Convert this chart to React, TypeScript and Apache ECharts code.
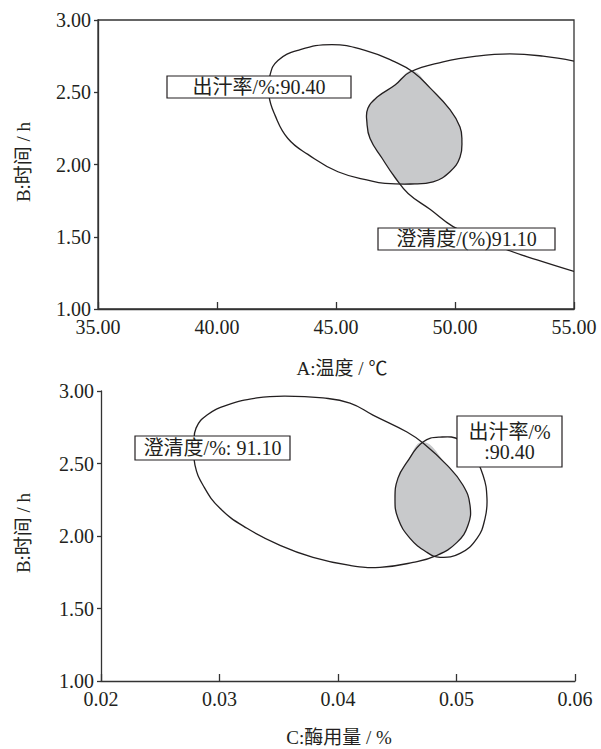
import React, { useEffect, useRef } from "react";
import * as echarts from "echarts";

// ---- Axis ranges ----
const tempRange = [35, 55, 5];
const timeRange = [1, 3, 0.5];
const enzymeRange = [0.02, 0.06, 0.01];

// ---- Top panel (A: temperature vs B: time) contours, [x, y] ----
const topYieldContour: number[][] = [
  [42.18, 2.48], [42.23, 2.62], [42.56, 2.72], [43.4, 2.79], [44.83, 2.83],
  [46.22, 2.79], [47.48, 2.71], [48.24, 2.64], [48.95, 2.53], [49.79, 2.38],
  [50.21, 2.26], [50.29, 2.17], [50.21, 2.05], [49.79, 1.95], [49.08, 1.88],
  [48.11, 1.865], [47.06, 1.87], [46.51, 1.885], [45.08, 1.95], [43.82, 2.07],
  [42.98, 2.18], [42.44, 2.34],
];
const topClarityContour: number[][] = [
  [55.0, 2.716], [53.7, 2.75], [52.31, 2.765], [50.92, 2.75], [49.5, 2.71],
  [48.11, 2.64], [47.48, 2.55], [46.76, 2.47], [46.34, 2.39], [46.3, 2.29],
  [46.43, 2.18], [46.93, 2.045], [47.48, 1.91], [48.03, 1.8], [48.95, 1.69],
  [49.92, 1.57], [51.05, 1.49], [52.18, 1.41], [53.45, 1.34], [55.0, 1.26],
];
const topOverlap: number[][] = [
  [48.19, 2.647], [48.95, 2.53], [49.79, 2.38], [50.21, 2.26], [50.29, 2.17],
  [50.21, 2.05], [49.79, 1.95], [49.08, 1.88], [48.32, 1.862], [47.73, 1.865],
  [47.48, 1.91], [46.93, 2.045], [46.43, 2.18], [46.3, 2.29], [46.34, 2.39],
  [46.76, 2.47], [47.48, 2.55],
];

// ---- Bottom panel (C: enzyme dose vs B: time) contours ----
const bottomClarityContour: number[][] = [
  [0.02785, 2.627], [0.02802, 2.744], [0.02895, 2.834], [0.03063, 2.903],
  [0.03316, 2.952], [0.03553, 2.965], [0.03873, 2.952], [0.04101, 2.917],
  [0.04295, 2.834], [0.04582, 2.717], [0.04717, 2.641], [0.0492, 2.489],
  [0.05055, 2.35], [0.05114, 2.212], [0.05097, 2.074], [0.05004, 1.956],
  [0.04835, 1.867], [0.04633, 1.818], [0.04354, 1.784], [0.04101, 1.797],
  [0.03789, 1.853], [0.03511, 1.936], [0.03232, 2.053], [0.03004, 2.191],
  [0.02861, 2.35], [0.02793, 2.489],
];
const bottomYieldContour: number[][] = [
  [0.04481, 2.261], [0.04506, 2.399], [0.04582, 2.509], [0.04717, 2.648],
  [0.04861, 2.682], [0.0503, 2.661], [0.05139, 2.558], [0.05224, 2.419],
  [0.05257, 2.261], [0.05241, 2.122], [0.05173, 1.984], [0.0503, 1.88],
  [0.04861, 1.853], [0.04751, 1.887], [0.04608, 1.984], [0.04506, 2.122],
];
const bottomOverlap: number[][] = [
  [0.04717, 2.648], [0.04582, 2.509], [0.04506, 2.399], [0.04481, 2.261],
  [0.04506, 2.122], [0.04608, 1.984], [0.04751, 1.887], [0.0481, 1.867],
  [0.05004, 1.956], [0.05097, 2.074], [0.05114, 2.212], [0.05055, 2.35],
  [0.0492, 2.489],
];

// ---- Texts ----
const topXName = "A:温度 / ℃";
const bottomXName = "C:酶用量 / %";
const yName = "B:时间 / h";
const topYieldLabel = "出汁率/%:90.40";
const topClarityLabel = "澄清度/(%)91.10";
const bottomClarityLabel = "澄清度/%: 91.10";
const bottomYieldLabel = "出汁率/%\n:90.40";

const FONT = '"Liberation Serif", "Times New Roman", "Noto Sans CJK SC", serif';
const INK = "#231f20";
const AXIS = "#333333";
const SMOOTH = 0.45;

function shape(gi: number, pts: number[][], kind: "closed" | "open" | "fill") {
  return {
    type: "custom",
    xAxisIndex: gi,
    yAxisIndex: gi,
    data: [0],
    clip: true,
    silent: true,
    z: kind === "fill" ? 1 : 3,
    renderItem: (_p: any, api: any) => {
      const points = pts.map((p) => api.coord(p));
      if (kind === "fill") {
        return {
          type: "polygon",
          shape: { points, smooth: SMOOTH },
          style: { fill: "#c8c9cb", stroke: "none" },
        };
      }
      return {
        type: kind === "closed" ? "polygon" : "polyline",
        shape: { points, smooth: SMOOTH },
        style: { fill: "none", stroke: INK, lineWidth: 1.3 },
      };
    },
  };
}

function xAxis(gi: number, r: number[]) {
  return {
    type: "value",
    gridIndex: gi,
    min: r[0],
    max: r[1],
    interval: r[2],
    axisLine: { show: true, lineStyle: { color: AXIS, width: 1.3 } },
    axisTick: { show: true, inside: true, length: 7, lineStyle: { color: AXIS, width: 1.3 } },
    axisLabel: {
      fontSize: 20,
      fontFamily: FONT,
      color: INK,
      margin: 8,
      formatter: (v: number) => v.toFixed(2),
    },
    splitLine: { show: false },
  };
}

function yAxis(gi: number, r: number[]) {
  return {
    type: "value",
    gridIndex: gi,
    min: r[0],
    max: r[1],
    interval: r[2],
    axisLine: { show: true, lineStyle: { color: AXIS, width: 1.3 } },
    axisTick: { show: true, inside: false, length: 4, lineStyle: { color: AXIS, width: 1.3 } },
    axisLabel: {
      fontSize: 20,
      fontFamily: FONT,
      color: INK,
      margin: 7,
      formatter: (v: number) => v.toFixed(2),
    },
    splitLine: { show: false },
  };
}

function box(x: number, y: number, w: number, h: number, text: string) {
  return {
    type: "group",
    z: 100,
    children: [
      {
        type: "rect",
        z: 100,
        shape: { x, y, width: w, height: h },
        style: { fill: "#ffffff", stroke: INK, lineWidth: 1.2 },
      },
      {
        type: "text",
        z: 101,
        x: x + w / 2,
        y: y + h / 2,
        style: {
          text,
          fontSize: 20,
          fontFamily: FONT,
          fill: INK,
          align: "center",
          verticalAlign: "middle",
          lineHeight: 20,
        },
      },
    ],
  };
}

function label(x: number, y: number, text: string, rotation = 0) {
  return {
    type: "text",
    z: 100,
    x,
    y,
    rotation,
    style: {
      text,
      fontSize: 19,
      fontFamily: FONT,
      fill: INK,
      align: "center",
      verticalAlign: "middle",
    },
  };
}

export default function App() {
  const ref = useRef<HTMLDivElement>(null);
  useEffect(() => {
    if (!ref.current) return;
    const chart = echarts.init(ref.current, undefined, { renderer: "svg" });
    chart.setOption({
      animation: false,
      backgroundColor: "#ffffff",
      grid: [
        { left: 98, top: 20, width: 476, height: 289, show: true, borderColor: AXIS, borderWidth: 1.3, backgroundColor: "transparent" },
        { left: 101, top: 391, width: 474, height: 290 },
      ],
      xAxis: [xAxis(0, tempRange), xAxis(1, enzymeRange)],
      yAxis: [yAxis(0, timeRange), yAxis(1, timeRange)],
      series: [
        shape(0, topOverlap, "fill"),
        shape(0, topYieldContour, "closed"),
        shape(0, topClarityContour, "open"),
        shape(1, bottomOverlap, "fill"),
        shape(1, bottomClarityContour, "closed"),
        shape(1, bottomYieldContour, "closed"),
      ],
      graphic: [
        box(167, 76, 184, 22, topYieldLabel),
        box(378, 228, 177, 22, topClarityLabel),
        box(135, 436, 155, 24, bottomClarityLabel),
        box(457, 416, 105, 51, bottomYieldLabel),
        label(342, 368, topXName),
        label(339, 737, bottomXName),
        label(23, 162, yName, Math.PI / 2),
        label(23, 533, yName, Math.PI / 2),
      ],
    });
    return () => chart.dispose();
  }, []);
  return (
    <div
      ref={ref}
      style={{ position: "absolute", left: 0, top: 0, width: 601, height: 749, background: "#fff" }}
    />
  );
}
